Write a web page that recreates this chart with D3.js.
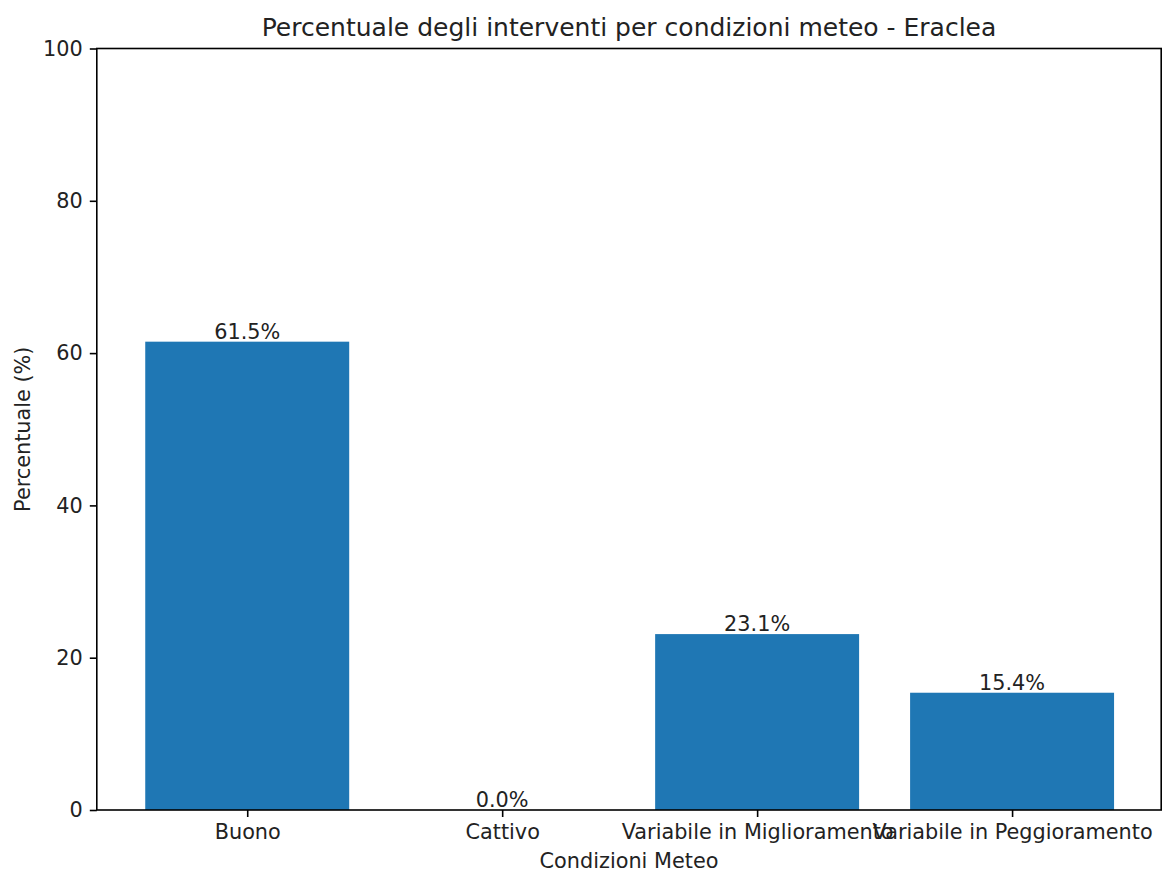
<!DOCTYPE html>
<html><head><meta charset="utf-8">
<script src="https://cdn.jsdelivr.net/npm/d3@7"></script>
<style>body{margin:0;background:#fff;}svg{display:block;font-family:"DejaVu Sans",sans-serif;}</style>
</head><body>
<svg id="c" width="1162" height="872"></svg>
<script>
const categories = ["Buono", "Cattivo", "Variabile in Miglioramento", "Variabile in Peggioramento"];
const values = [61.5, 0.0, 23.1, 15.4];
const yTicks = [0, 20, 40, 60, 80, 100];
const title = "Percentuale degli interventi per condizioni meteo - Eraclea";
const xLabel = "Condizioni Meteo";
const yLabel = "Percentuale (%)";

const svg = d3.select("#c");
const L = 96.8, R = 1162.5, T = 48.5, B = 810;
const x = d3.scaleLinear().domain([-0.59, 3.59]).range([L, R]);
const y = d3.scaleLinear().domain([0, 100]).range([B, T]);
const bw = x(0.4) - x(-0.4);
const fs = 20.8;

svg.selectAll("rect.bar").data(values).join("rect").attr("class","bar")
  .attr("x",(d,i)=>x(i)-bw/2).attr("width",bw)
  .attr("y",d=>y(d)).attr("height",d=>B-y(d)).attr("fill","#1f77b4");

svg.selectAll("text.val").data(values).join("text").attr("class","val")
  .attr("x",(d,i)=>x(i)).attr("y",d=>y(d)-3).attr("text-anchor","middle")
  .attr("font-size",fs).attr("fill","#222").text(d=>d.toFixed(1)+"%");

svg.append("rect").attr("x",L).attr("y",T).attr("width",Math.min(R,1161.2)-L).attr("height",B-T)
  .attr("fill","none").attr("stroke","#000").attr("stroke-width",1.6);

const yAxis = svg.append("g").attr("transform",`translate(${L},0)`)
  .call(d3.axisLeft(y).tickValues(yTicks).tickSize(7).tickPadding(7).tickFormat(d3.format("d")));
const xAxis = svg.append("g").attr("transform",`translate(0,${B})`)
  .call(d3.axisBottom(x).tickValues(d3.range(categories.length)).tickSize(7).tickPadding(7).tickFormat(i=>categories[i]));
[yAxis,xAxis].forEach(g=>{
  g.select(".domain").remove();
  g.selectAll("line").attr("stroke","#000").attr("stroke-width",1.6);
  g.selectAll("text").attr("font-size",fs).attr("fill","#222").attr("font-family","DejaVu Sans");
});

svg.append("text").attr("x",629).attr("y",36).attr("text-anchor","middle")
  .attr("font-size",25).attr("fill","#222").text(title);
svg.append("text").attr("x",629).attr("y",868).attr("text-anchor","middle")
  .attr("font-size",fs).attr("fill","#222").text(xLabel);
svg.append("text").attr("transform",`translate(30,${(T+B)/2}) rotate(-90)`).attr("text-anchor","middle")
  .attr("font-size",fs).attr("fill","#222").text(yLabel);
</script>
</body></html>
